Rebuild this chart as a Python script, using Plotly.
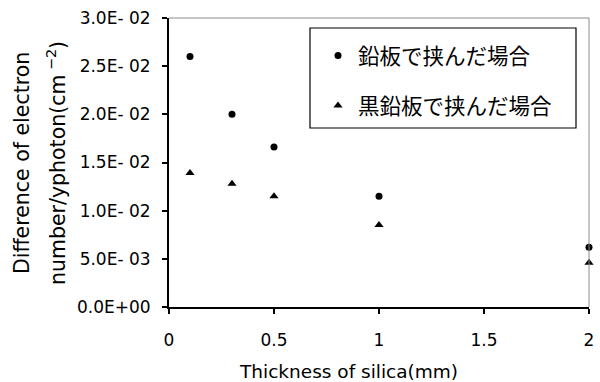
import plotly.graph_objects as go

thickness = [0.1, 0.3, 0.5, 1.0, 2.0]
lead_values = [0.0260, 0.0200, 0.0166, 0.0115, 0.0062]
graphite_values = [0.0139, 0.0128, 0.0115, 0.0085, 0.0046]
series_names = ["鉛板で挟んだ場合", "黒鉛板で挟んだ場合"]

y_tickvals = [0, 0.005, 0.01, 0.015, 0.02, 0.025, 0.03]
y_ticktext = ["0.0E+00", "5.0E- 03", "1.0E- 02", "1.5E- 02", "2.0E- 02", "2.5E- 02", "3.0E- 02"]
x_tickvals = [0, 0.5, 1, 1.5, 2]
x_ticktext = ["0", "0.5", "1", "1.5", "2"]
x_title = "Thickness of silica(mm)"
y_title_lines = ["Difference of electron", "number/yphoton(cm<sup> −2</sup>)"]

FONT = "DejaVu Sans, sans-serif"
JFONT = "Noto Sans CJK JP, sans-serif"

L, R, T, B = 169, 589, 18, 307
W, H = R - L, B - T


def px(x):
    return (x - L) / W


def py(y):
    return (B - y) / H


fig = go.Figure()
fig.add_trace(go.Scatter(x=thickness, y=lead_values, mode="markers", name=series_names[0],
                         legendgroup="a", cliponaxis=False,
                         marker=dict(symbol="circle", size=7, color="black")))
fig.add_trace(go.Scatter(x=thickness, y=graphite_values, mode="markers", name=series_names[1],
                         legendgroup="b", cliponaxis=False,
                         marker=dict(symbol="triangle-up", size=8, color="black")))

# gray plot-area frame (top and right)
fig.add_shape(type="line", xref="paper", yref="paper", x0=0, x1=1, y0=1, y1=1,
              line=dict(color="#8c8c8c", width=1))
fig.add_shape(type="line", xref="paper", yref="paper", x0=1, x1=1, y0=0, y1=1,
              line=dict(color="#8c8c8c", width=1))
# legend box
fig.add_shape(type="rect", xref="paper", yref="paper",
              x0=px(310), x1=px(576), y0=py(128), y1=py(28),
              line=dict(color="black", width=1.2), fillcolor="rgba(0,0,0,0)")

# y axis title (two lines)
for text, xc in zip(y_title_lines, [22, 56]):
    fig.add_annotation(text=text, xref="paper", yref="paper",
                       x=px(xc), y=py(163), xanchor="center", yanchor="middle",
                       textangle=-90, showarrow=False,
                       font=dict(family=FONT, size=20.5, color="black"))
# x axis title
fig.add_annotation(text=x_title, xref="paper", yref="paper",
                   x=px(348), y=py(371), xanchor="center", yanchor="middle",
                   showarrow=False, font=dict(family=FONT, size=18.5, color="black"))

fig.update_layout(
    width=600, height=382,
    margin=dict(l=L, r=600 - R, t=T, b=382 - B),
    paper_bgcolor="white", plot_bgcolor="white",
    font=dict(family=FONT, size=17, color="black"),
    showlegend=True,
    legend=dict(x=px(318), y=py(35), xanchor="left", yanchor="top",
                borderwidth=0, bgcolor="rgba(0,0,0,0)",
                font=dict(family=JFONT, size=21.5, color="black"),
                traceorder="grouped", tracegroupgap=19),
    xaxis=dict(range=[0, 2], tickvals=x_tickvals, ticktext=x_ticktext, automargin=False,
               showgrid=False, zeroline=False, showline=True, linecolor="black", linewidth=2,
               ticks="outside", ticklen=5, tickwidth=1.5, tickcolor="black",
               ticklabelstandoff=12),
    yaxis=dict(range=[0, 0.03], tickvals=y_tickvals, ticktext=y_ticktext, automargin=False,
               showgrid=False, zeroline=False, showline=True, linecolor="black", linewidth=2,
               ticks="outside", ticklen=5, tickwidth=1.5, tickcolor="black",
               ticklabelstandoff=8),
)

fig.write_html("out.html", config={"displayModeBar": False},
               post_script="document.body.style.margin='0';")
